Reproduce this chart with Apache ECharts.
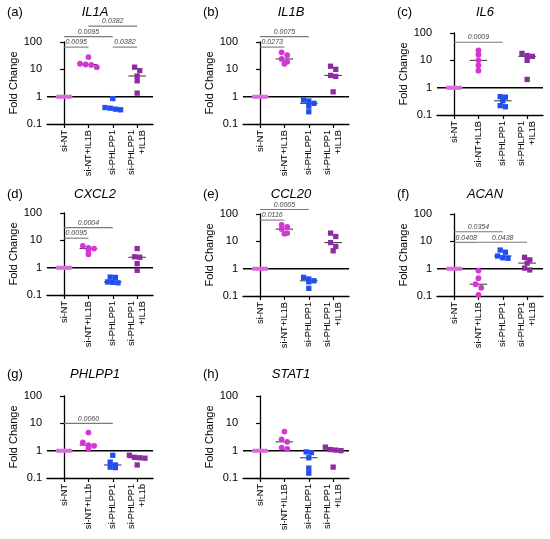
<!DOCTYPE html>
<html>
<head>
<meta charset="utf-8">
<script src="https://cdn.jsdelivr.net/npm/echarts@6/dist/echarts.min.js"></script>
<style>html,body{margin:0;padding:0;background:#fff;}#c{width:550px;height:539px;}</style>
</head>
<body>
<div id="c"></div>
<script>
// ---------------- data ----------------
const groups  = ['si-NT', 'si-NT+IL1B', 'si-PHLPP1', 'si-PHLPP1\n+IL1B'];
const groupsG = ['si-NT', 'si-NT+IL1b', 'si-PHLPP1', 'si-PHLPP1\n+IL1b'];
const yTicks  = [0.1, 1, 10, 100];
const genes   = ['IL1A', 'IL1B', 'IL6', 'CXCL2', 'CCL20', 'ACAN', 'PHLPP1', 'STAT1'];
const letters = ['(a)', '(b)', '(c)', '(d)', '(e)', '(f)', '(g)', '(h)'];

const il1a   = [[1,1,1,1,1], [28,16,15,14.5,12], [0.85,0.40,0.38,0.35,0.33], [12,9,5.7,3.8,1.35]];
const il1b   = [[1,1,1,1,1], [42,33,24,19,16], [0.75,0.69,0.57,0.45,0.28], [13,10,6,5.5,1.5]];
const il6    = [[1,1,1,1,1], [23,16,10,6.5,4.2], [0.47,0.45,0.33,0.22,0.20], [18,15,14,10,2]];
const cxcl2  = [[1,1,1,1,1], [6.3,5.3,5.0,4.4,3.1], [0.45,0.44,0.30,0.29,0.28], [5,2.5,2.4,1.4,0.8]];
const ccl20  = [[1,1,1,1,1], [40,34,28,20,19], [0.48,0.42,0.36,0.33,0.19], [20,15,9,6.5,4.5]];
const acan   = [[1,1,1,1,1], [0.85,0.45,0.27,0.20,0.11], [4.8,4.0,2.9,2.5,2.4], [2.6,2.1,1.6,1.05,0.9]];
const phlpp1 = [[1,1,1,1,1], [4.6,2.0,1.6,1.5,1.2], [0.68,0.38,0.30,0.25,0.24], [0.68,0.57,0.55,0.53,0.30]];
const stat1  = [[1,1,1,1,1], [5,2.6,2.1,1.3,1.15], [0.9,0.85,0.55,0.23,0.15], [1.35,1.1,1.05,1.0,0.25]];

// significance brackets: [fromGroup, toGroup, p-value]
const pA = [[0,1,'0.0095'], [2,3,'0.0382'], [0,2,'0.0095'], [1,3,'0.0382']];
const pB = [[0,1,'0.0273'], [0,2,'0.0075']];
const pC = [[0,2,'0.0009']];
const pD = [[0,1,'0.0095'], [0,2,'0.0004']];
const pE = [[0,1,'0.0116'], [0,2,'0.0005']];
const pF = [[0,1,'0.0408'], [1,3,'0.0438'], [0,2,'0.0354']];
const pG = [[0,2,'0.0060']];
const pH = [];

const panelData = [il1a, il1b, il6, cxcl2, ccl20, acan, phlpp1, stat1];
const panelP    = [pA, pB, pC, pD, pE, pF, pG, pH];
const panelCats = [groups, groups, groups, groups, groups, groups, groupsG, groups];

// ---------------- layout / style ----------------
const FONT = 'Liberation Sans, Arial, Helvetica, sans-serif';
const GRID_W = 106, GRID_H = 82;
const XMIN = -0.7, XMAX = 3.65;
const PX_UNIT = GRID_W / (XMAX - XMIN);
const PX_DEC = GRID_H / 3;
const layout = [
  {left: 47,  top: 42,  ty: 13,    base: 65},
  {left: 243, top: 42,  ty: 13,    base: 65},
  {left: 437, top: 33,  ty: 13,    base: 46},
  {left: 47,  top: 213, ty: 194.5, base: 12},
  {left: 243, top: 214, ty: 194.5, base: 60},
  {left: 437, top: 214, ty: 194.5, base: 9.2},
  {left: 47,  top: 396, ty: 375,   base: 10},
  {left: 243, top: 396, ty: 375,   base: 10}
];
const colors  = ['#DD6ADD', '#D535D5', '#1F4EF2', '#8C2C9E'];
const symbols = ['circle', 'circle', 'rect', 'rect'];
const sizes   = [4.5, 5.8, 5.3, 5.3];
const steps   = [3, 5.6, 5.2, 5.2];
const ROW_TOL = 4;         // px: points within this of a row's first point share the row
const BRACKET_STEP = 10.5;

function median(a) {
  const s = a.slice().sort((x, y) => x - y);
  const n = s.length;
  return n % 2 ? s[(n - 1) / 2] : (s[n / 2 - 1] + s[n / 2]) / 2;
}

// dot-plot arrangement: points with close values are centred side by side in rows
function spread(vals, stepPx) {
  const order = vals.map((v, i) => i).sort((a, b) => vals[b] - vals[a]);
  const rows = [];
  let cur = [], head = null;
  order.forEach(i => {
    const y = Math.log10(vals[i]) * PX_DEC;
    if (head !== null && Math.abs(head - y) > ROW_TOL) { rows.push(cur); cur = []; head = null; }
    if (head === null) head = y;
    cur.push(i);
  });
  rows.push(cur);
  const offs = new Array(vals.length).fill(0);
  rows.forEach(r => r.forEach((i, k) => { offs[i] = (k - (r.length - 1) / 2) * stepPx / PX_UNIT; }));
  return offs;
}

const grids = [], xAxes = [], yAxes = [], series = [], titles = [];

panelData.forEach((pdata, pi) => {
  const L = layout[pi];
  const cats = panelCats[pi];
  grids.push({left: L.left, top: L.top, width: GRID_W, height: GRID_H, containLabel: false});
  xAxes.push({
    type: 'value', gridIndex: pi, min: XMIN, max: XMAX,
    splitLine: {show: false},
    axisLine: {show: true, onZero: false, lineStyle: {color: '#000', width: 1.3}},
    axisTick: {show: true, customValues: [0, 1, 2, 3], length: 4, lineStyle: {color: '#000', width: 1.2}},
    axisLabel: {
      customValues: [0, 1, 2, 3], rotate: 90, margin: 6,
      fontFamily: FONT, fontSize: 9.2, color: '#000', lineHeight: 11,
      formatter: v => cats[Math.round(v)]
    }
  });
  yAxes.push({
    type: 'log', logBase: 10, gridIndex: pi, min: 0.1, max: 100,
    name: 'Fold Change', nameLocation: 'middle', nameGap: 19,
    nameTextStyle: {fontFamily: FONT, fontSize: 11, color: '#000'},
    splitLine: {show: false},
    axisLine: {show: true, lineStyle: {color: '#000', width: 1.3}},
    axisTick: {show: true, length: 4, lineStyle: {color: '#000', width: 1.2}},
    minorTick: {show: false},
    axisLabel: {
      margin: 5, fontFamily: FONT, fontSize: 11, color: '#000',
      formatter: v => {
        const t = yTicks.find(t => Math.abs(Math.log10(t) - Math.log10(v)) < 1e-6);
        return t !== undefined ? String(t) : '';
      }
    }
  });

  // reference line at fold change = 1
  series.push({
    type: 'custom', xAxisIndex: pi, yAxisIndex: pi, z: 1, silent: true,
    data: [[0, 1]],
    renderItem: (params, api) => {
      const cs = params.coordSys;
      const y = api.coord([0, 1])[1];
      return {type: 'line', shape: {x1: cs.x, y1: y, x2: cs.x + cs.width, y2: y},
              style: {stroke: '#000', lineWidth: 1.5}};
    }
  });

  // scatter dots
  pdata.forEach((vals, gi) => {
    const offs = spread(vals, steps[gi]);
    series.push({
      type: 'scatter', xAxisIndex: pi, yAxisIndex: pi, z: 3,
      symbol: symbols[gi], symbolSize: sizes[gi],
      itemStyle: {color: colors[gi], opacity: 1},
      data: vals.map((v, k) => [gi + offs[k], v])
    });
  });

  // median lines
  series.push({
    type: 'custom', xAxisIndex: pi, yAxisIndex: pi, z: 2, silent: true,
    data: pdata.map((vals, gi) => [gi, median(vals)]),
    renderItem: (params, api) => {
      const g = api.value(0), m = api.value(1);
      const p1 = api.coord([g - 0.36, m]), p2 = api.coord([g + 0.36, m]);
      return {type: 'line', shape: {x1: p1[0], y1: p1[1], x2: p2[0], y2: p2[1]},
              style: {stroke: '#333', lineWidth: 1}};
    }
  });

  // significance brackets
  const br = panelP[pi];
  if (br.length) {
    const levels = [];
    const order = br.map((b, i) => i).sort((a, b) => (br[a][1] - br[a][0]) - (br[b][1] - br[b][0]) || a - b);
    const assigned = [];
    order.forEach(i => {
      let lv = 0;
      while (assigned.some(a => a.lv === lv && br[a.i][0] < br[i][1] && br[a.i][1] > br[i][0])) lv++;
      assigned.push({i, lv});
      levels[i] = lv;
    });
    series.push({
      type: 'custom', xAxisIndex: pi, yAxisIndex: pi, z: 4, silent: true, clip: false,
      data: br.map((b, i) => [b[0], L.base, b[1], i]),
      renderItem: (params, api) => {
        const i = api.value(3);
        const x1 = api.coord([api.value(0), 1])[0];
        const x2 = api.coord([api.value(2), 1])[0];
        const y = api.coord([0, api.value(1)])[1] - levels[i] * BRACKET_STEP;
        return {
          type: 'group',
          children: [
            {type: 'line', shape: {x1, y1: y, x2, y2: y}, style: {stroke: '#7a7a7a', lineWidth: 1.1}},
            {type: 'text', x: (x1 + x2) / 2, y: y - 1.2,
             style: {text: br[i][2], fill: '#444', fontFamily: FONT, fontSize: 7, fontStyle: 'italic',
                     align: 'center', verticalAlign: 'bottom'}}
          ]
        };
      }
    });
  }

  titles.push({
    text: letters[pi], left: L.left - 40, top: L.ty - 7, padding: 0,
    textStyle: {fontFamily: FONT, fontSize: 13, fontWeight: 'normal', color: '#000'}
  });
  titles.push({
    text: genes[pi], left: L.left + GRID_W / 2 - 5, top: L.ty - 7, padding: 0, textAlign: 'center',
    textStyle: {fontFamily: FONT, fontSize: 13, fontWeight: 'normal', fontStyle: 'italic', color: '#000'}
  });
});

const chart = echarts.init(document.getElementById('c'), null, {renderer: 'canvas'});
chart.setOption({
  backgroundColor: '#fff',
  animation: false,
  title: titles,
  grid: grids,
  xAxis: xAxes,
  yAxis: yAxes,
  series: series
});
</script>
</body>
</html>
